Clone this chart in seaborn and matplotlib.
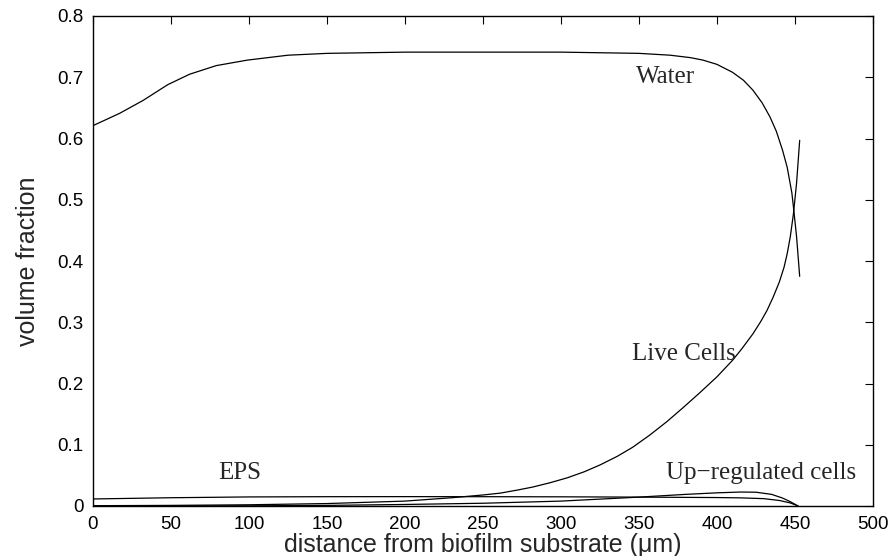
import numpy as np
import pandas as pd
import seaborn as sns
import matplotlib
matplotlib.use("Agg")
import matplotlib.pyplot as plt
from matplotlib.ticker import FuncFormatter

# ---- data ----
water_x = [0, 17, 32, 48, 62, 79, 99, 125, 150, 200, 250, 300, 350, 370, 383, 391,
           400, 410, 417, 423, 429, 434, 438, 442, 445, 448, 449, 451, 453]
water_y = [0.621, 0.641, 0.662, 0.688, 0.705, 0.719, 0.728, 0.736, 0.739, 0.741,
           0.741, 0.741, 0.739, 0.736, 0.732, 0.728, 0.721, 0.708, 0.695, 0.679,
           0.658, 0.635, 0.612, 0.581, 0.553, 0.511, 0.488, 0.440, 0.375]

live_x = [0, 50, 100, 150, 200, 230, 250, 261, 272, 282, 293, 304, 315, 325, 336,
          346, 357, 368, 378, 389, 400, 410, 416, 423, 428, 432, 436, 440, 443,
          445, 447, 449, 451, 453]
live_y = [0.0005, 0.001, 0.002, 0.004, 0.008, 0.0135, 0.018, 0.021, 0.026, 0.031,
          0.038, 0.046, 0.056, 0.067, 0.081, 0.096, 0.116, 0.138, 0.160, 0.185,
          0.211, 0.238, 0.257, 0.281, 0.301, 0.319, 0.341, 0.366, 0.390, 0.412,
          0.440, 0.477, 0.527, 0.597]

eps_x = [0, 50, 100, 150, 200, 250, 300, 350, 400, 415, 430, 440, 447, 452]
eps_y = [0.0115, 0.0135, 0.0148, 0.0152, 0.0153, 0.0152, 0.0150, 0.0145, 0.0138,
         0.0133, 0.012, 0.009, 0.005, 0.0]

up_x = [0, 100, 150, 200, 250, 300, 350, 380, 400, 415, 425, 435, 442, 447, 452]
up_y = [0.0, 0.0003, 0.001, 0.0025, 0.0045, 0.008, 0.0145, 0.019, 0.0215,
        0.0228, 0.0225, 0.019, 0.013, 0.007, 0.0]

x_ticks = [0, 50, 100, 150, 200, 250, 300, 350, 400, 450, 500]
y_ticks = [0, 0.1, 0.2, 0.3, 0.4, 0.5, 0.6, 0.7, 0.8]

labels = ["Water", "Live Cells", "EPS", "Up\u2212regulated cells"]
label_x = [367, 379, 94, 428]
label_y = [0.700, 0.248, 0.054, 0.054]

series = {
    "Water": (water_x, water_y),
    "Live Cells": (live_x, live_y),
    "EPS": (eps_x, eps_y),
    "Up-regulated cells": (up_x, up_y),
}

sns.set_style("white")
plt.rcParams["font.family"] = ["Liberation Sans", "DejaVu Sans"]

fig = plt.figure(figsize=(8.91, 5.56), dpi=100)
ax = fig.add_axes([93 / 891, 1 - 506 / 556, (873 - 93) / 891, (506 - 16) / 556])

for name, (xs, ys) in series.items():
    df = pd.DataFrame({"x": xs, "y": ys})
    sns.lineplot(data=df, x="x", y="y", ax=ax, color="black", linewidth=0.9,
                 estimator=None, sort=False)

ax.set_xlim(0, 500)
ax.set_ylim(0, 0.8)
ax.set_xticks(x_ticks)
ax.set_yticks(y_ticks)
ax.yaxis.set_major_formatter(FuncFormatter(lambda v, p: "0" if abs(v) < 1e-9 else f"{v:.1f}"))
ax.tick_params(direction="in", length=6, width=0.8, top=True, right=True,
               labelsize=13.5, colors="black", pad=7)
for s in ax.spines.values():
    s.set_linewidth(1.0)
    s.set_color("black")

ax.set_xlabel("distance from biofilm substrate (\u03bcm)", fontsize=18, labelpad=0)
ax.set_ylabel("volume fraction", fontsize=18, labelpad=12)

for t, xx, yy in zip(labels, label_x, label_y):
    ax.text(xx, yy, t, fontsize=18, ha="center", va="center",
            family=["Liberation Serif", "DejaVu Serif"])

fig.savefig("out.png", dpi=100)
